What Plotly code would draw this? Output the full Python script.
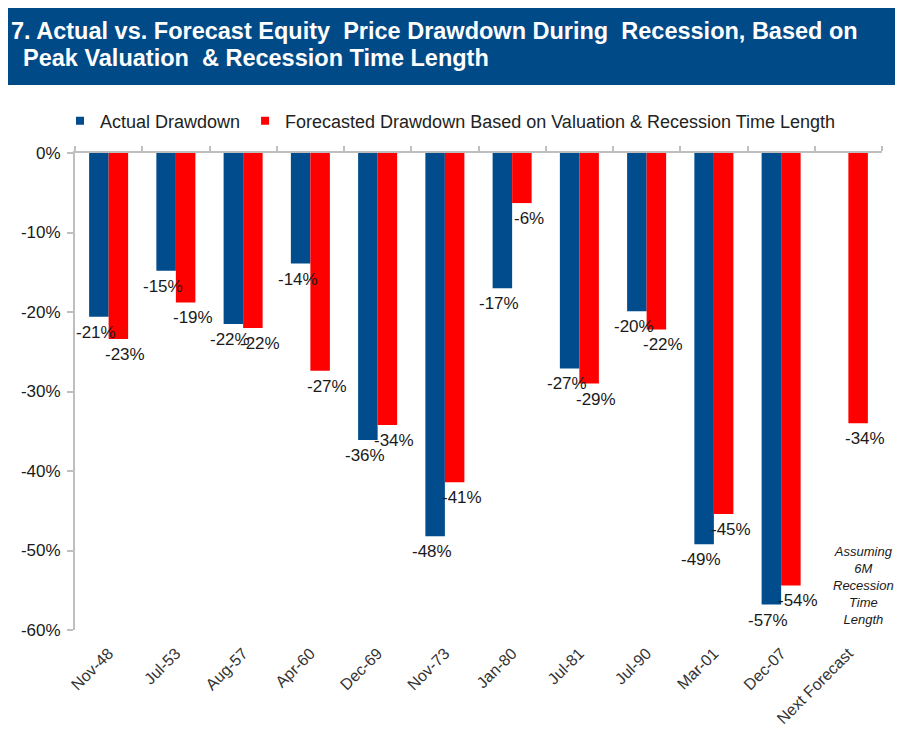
import plotly.graph_objects as go

categories = ["Nov-48", "Jul-53", "Aug-57", "Apr-60", "Dec-69", "Nov-73", "Jan-80",
              "Jul-81", "Jul-90", "Mar-01", "Dec-07", "Next Forecast"]
actual = [-20.6, -14.8, -21.5, -13.9, -36.1, -48.2, -17.0, -27.1, -19.9, -49.2, -56.8, None]
forecast = [-23.4, -18.8, -22.0, -27.4, -34.2, -41.4, -6.3, -29.0, -22.2, -45.4, -54.4, -34.0]
series_names = ["Actual Drawdown", "Forecasted Drawdown Based on Valuation & Recession Time Length"]
y_ticks = [0, -10, -20, -30, -40, -50, -60]
y_tick_text = [f"{v}%" for v in y_ticks]

BLUE = "#004C8C"
RED = "#FF0000"
TXT = "#1a1a1a"
AX = "#BFBFBF"
FONT = "Liberation Sans, Arial, sans-serif"

# page body adds an 8px margin; size the figure so it fits the 903x737 window
OFF = 8
W, H = 903 - OFF, 737 - OFF
L, R, T, B = 75 - OFF, 21, 153 - OFF, 107
PW, PH = W - L - R, H - T - B  # 807 x 477
BARGAP = 0.42


def px_x(px):  # reference-image x pixel -> paper coordinate
    return (px - 75) / PW


def px_y(py):  # reference-image y pixel -> paper coordinate
    return (630 - py) / PH


fig = go.Figure()
for vals, col in [(actual, BLUE), (forecast, RED)]:
    fig.add_trace(go.Bar(
        x=categories, y=vals, marker=dict(color=col, line=dict(width=0)),
        showlegend=False, hoverinfo="x+y", cliponaxis=False,
    ))

# legend entries with small square markers
for name, col in zip(series_names, [BLUE, RED]):
    fig.add_trace(go.Scatter(
        x=[None], y=[None], mode="markers", name=name,
        marker=dict(symbol="square", size=8, color=col),
    ))

# invisible trace for the top (zero-line) category axis
fig.add_trace(go.Scatter(x=categories, y=[None] * len(categories), xaxis="x2",
                         mode="lines", showlegend=False, hoverinfo="skip"))

x_range = [-0.5, len(categories) - 0.5]

# data labels below each bar end (value labels, like Excel "outside end")
bar_w = PW / len(categories) * (1 - BARGAP) / 2
label_anns = []
for vals, centre_shift, nudge in [(actual, -bar_w / 2, -3), (forecast, bar_w / 2, 7)]:
    for cat, v in zip(categories, vals):
        if v is None:
            continue
        label_anns.append(dict(
            x=cat, y=v, xref="x", yref="y", text=f"{v:.0f}%", showarrow=False,
            xanchor="center", yanchor="top", xshift=centre_shift + nudge, yshift=-4,
            font=dict(family=FONT, size=17, color=TXT),
        ))

fig.update_layout(
    width=W, height=H,
    margin=dict(l=L, r=R, t=T, b=B, autoexpand=False),
    paper_bgcolor="white", plot_bgcolor="white",
    barmode="group", bargap=BARGAP, bargroupgap=0.0,
    font=dict(family=FONT, color=TXT),
    xaxis=dict(
        type="category", categoryorder="array", categoryarray=categories,
        range=x_range, autorange=False,
        showline=False, showgrid=False, ticks="", tickangle=-45,
        ticklabelstandoff=10,
        tickfont=dict(family=FONT, size=16, color="#333333"),
    ),
    xaxis2=dict(
        type="category", categoryorder="array", categoryarray=categories,
        range=x_range, autorange=False,
        overlaying="x", side="top", anchor="y",
        showline=True, linecolor=AX, linewidth=2,
        ticks="outside", tickson="boundaries", ticklen=5, tickcolor=AX, tickwidth=2,
        showticklabels=False, showgrid=False,
    ),
    yaxis=dict(
        range=[-60, 0], autorange=False, tickvals=y_ticks, ticktext=y_tick_text,
        showline=True, linecolor=AX, linewidth=2,
        ticks="outside", ticklen=6, tickcolor=AX, tickwidth=2,
        showgrid=False, zeroline=False, ticklabelstandoff=3,
        tickfont=dict(family=FONT, size=17, color=TXT),
    ),
    legend=dict(
        orientation="h", x=px_x(60), xanchor="left", y=px_y(121), yanchor="middle",
        font=dict(family=FONT, size=18, color="#222222"),
        bgcolor="rgba(0,0,0,0)", itemwidth=30, tracegroupgap=0,
    ),
    shapes=[dict(
        type="rect", xref="paper", yref="paper",
        x0=px_x(OFF), x1=px_x(903), y0=px_y(85), y1=px_y(OFF),
        fillcolor="#014A88", line=dict(width=0), layer="below",
    )],
    annotations=label_anns + [
        dict(text="<b>7. Actual vs. Forecast Equity  Price Drawdown During  Recession, Based on</b>",
             xref="paper", yref="paper", x=px_x(9), y=px_y(31), xanchor="left", yanchor="middle",
             showarrow=False, font=dict(family=FONT, size=23.5, color="white")),
        dict(text="<b>Peak Valuation  & Recession Time Length</b>",
             xref="paper", yref="paper", x=px_x(21), y=px_y(58), xanchor="left", yanchor="middle",
             showarrow=False, font=dict(family=FONT, size=23.5, color="white")),
        dict(text="<i>Assuming<br>6M<br>Recession<br>Time<br>Length</i>",
             xref="paper", yref="paper", x=px_x(863), y=px_y(585), xanchor="center", yanchor="middle",
             showarrow=False, align="center",
             font=dict(family=FONT, size=13, color=TXT)),
    ],
)

fig.write_html("out.html")
